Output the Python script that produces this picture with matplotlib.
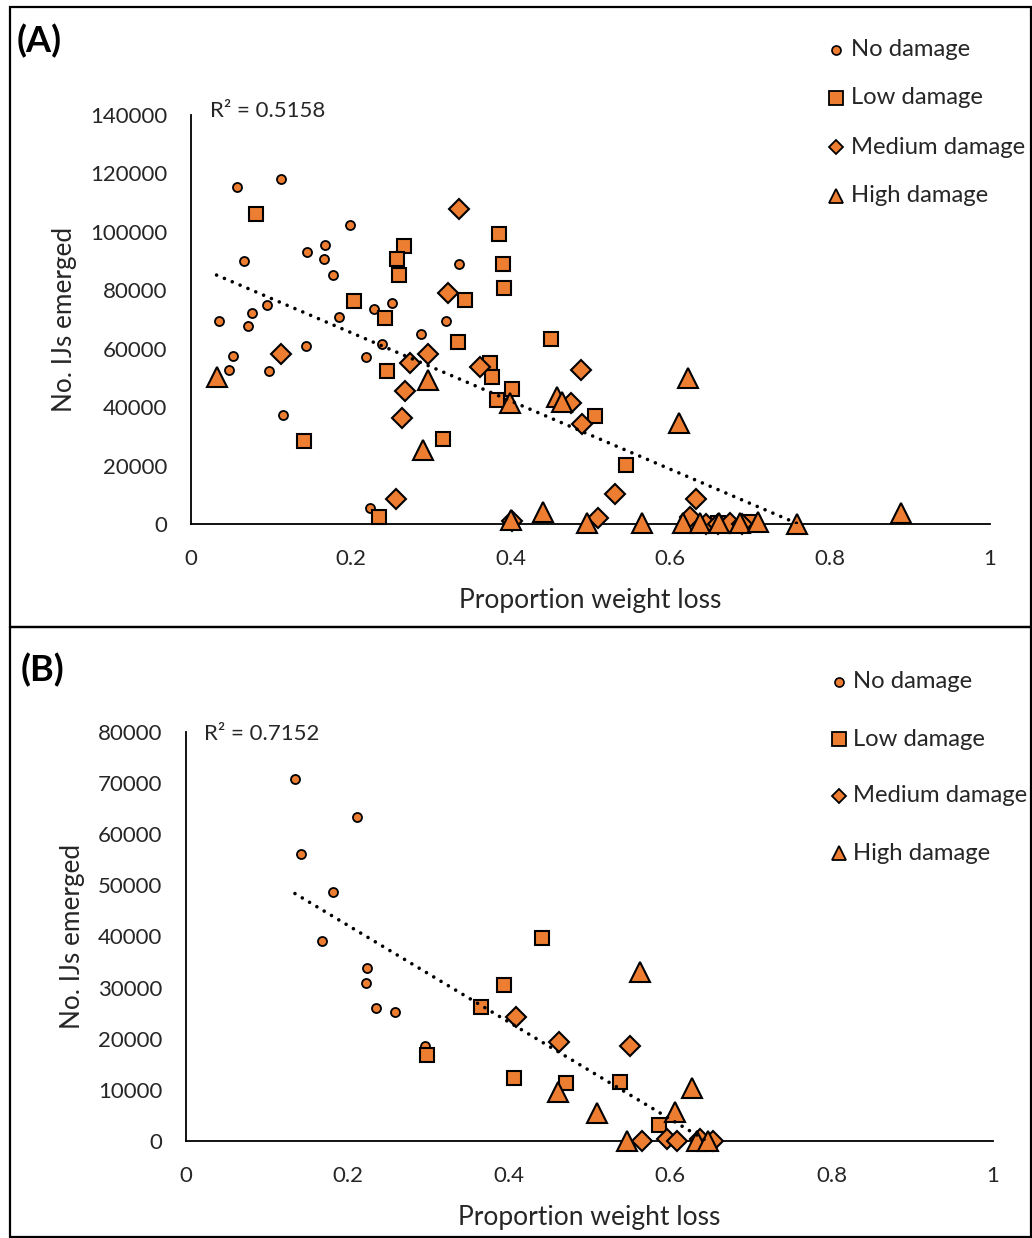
import numpy as np
import matplotlib
matplotlib.use("Agg")
import matplotlib.pyplot as plt
from matplotlib.lines import Line2D
from matplotlib.patches import Rectangle

plt.rcParams["font.family"] = ["Lato", "DejaVu Sans"]

ORANGE = "#ED7D31"

# ---- Panel A data (proportion weight loss, IJs emerged) ----
a_none_x = [0.058, 0.113, 0.199, 0.168, 0.145, 0.166, 0.066, 0.178, 0.095, 0.076,
            0.035, 0.071, 0.185, 0.229, 0.252, 0.239, 0.144, 0.053, 0.219, 0.047,
            0.098, 0.115, 0.224, 0.336, 0.319, 0.288]
a_none_y = [115500, 118200, 102400, 95500, 93000, 90800, 90000, 85100, 75000, 72300,
            69400, 67700, 70800, 73600, 75800, 61600, 61000, 57600, 57200, 52700,
            52400, 37200, 5600, 88900, 69400, 65000]

a_low_x = [0.081, 0.267, 0.258, 0.260, 0.204, 0.243, 0.245, 0.141, 0.235, 0.386,
           0.390, 0.392, 0.343, 0.334, 0.451, 0.374, 0.377, 0.402, 0.383, 0.316,
           0.506, 0.545, 0.660, 0.700]
a_low_y = [106000, 95200, 90600, 85200, 76300, 70500, 52400, 28500, 2500, 99200,
           89000, 80700, 76700, 62400, 63400, 55000, 50400, 46100, 42400, 29100,
           37000, 20100, 300, 600]

a_med_x = [0.336, 0.322, 0.113, 0.296, 0.274, 0.362, 0.488, 0.268, 0.264, 0.475,
           0.489, 0.531, 0.510, 0.256, 0.632, 0.625, 0.402, 0.645, 0.660, 0.675,
           0.690]
a_med_y = [107700, 79000, 58200, 58100, 55100, 53700, 52700, 45400, 36300, 41300,
           34200, 10400, 1950, 8450, 8550, 2500, 1000, 0, 0, 500,
           0]

a_high_x = [0.032, 0.296, 0.290, 0.399, 0.401, 0.441, 0.495, 0.458, 0.464, 0.622,
            0.611, 0.565, 0.616, 0.637, 0.661, 0.687, 0.710, 0.758, 0.889]
a_high_y = [50400, 49300, 25300, 41300, 1400, 4200, 200, 43600, 41900, 49900,
            34500, 300, 200, 300, 300, 300, 700, 0, 3700]

# ---- Panel B data ----
b_none_x = [0.135, 0.212, 0.1425, 0.1825, 0.1685, 0.224, 0.223, 0.2355, 0.259, 0.296]
b_none_y = [70900, 63300, 56200, 48800, 39200, 33800, 30900, 26100, 25200, 18500]

b_low_x = [0.394, 0.3655, 0.2986, 0.407, 0.441, 0.471, 0.538, 0.5866]
b_low_y = [30500, 26200, 16900, 12300, 39700, 11300, 11500, 3100]

b_med_x = [0.409, 0.4626, 0.5506, 0.565, 0.5956, 0.608, 0.637, 0.653]
b_med_y = [24200, 19400, 18600, 0, 300, 0, 300, 0]

b_high_x = [0.5626, 0.4614, 0.509, 0.6266, 0.606, 0.546, 0.633, 0.647]
b_high_y = [33100, 9500, 5400, 10300, 5700, 0, 0, 0]

labels = ["No damage", "Low damage", "Medium damage", "High damage"]
x_ticks = [0, 0.2, 0.4, 0.6, 0.8, 1]
x_tick_labels = ["0", "0.2", "0.4", "0.6", "0.8", "1"]

# marker look for each damage class: (marker, size, edge width)
styles = [("o", 6.5, 1.3), ("s", 10.5, 1.5), ("D", 10.0, 1.5), ("^", 14.5, 1.5)]
legend_styles = [("o", 6.5, 1.2), ("s", 10.0, 1.3), ("D", 7.0, 1.3), ("^", 9.5, 1.3)]

W, H = 1032, 1238
fig = plt.figure(figsize=(W / 100, H / 100), dpi=100)


def px_box(left, top, right, bottom):
    return [left / W, 1 - bottom / H, (right - left) / W, (bottom - top) / H]


def draw_panel(ax, groups, ymax, ystep, r2_text, r2_pos, xlab_y, ylab_x):
    for (xs, ys), (m, ms, mew) in zip(groups, styles):
        ax.plot(xs, ys, linestyle="none", marker=m, markersize=ms,
                markerfacecolor=ORANGE, markeredgecolor="black",
                markeredgewidth=mew, clip_on=False, zorder=3)

    # linear trendline over all points
    all_x = np.concatenate([np.asarray(g[0]) for g in groups])
    all_y = np.concatenate([np.asarray(g[1]) for g in groups])
    slope, icpt = np.polyfit(all_x, all_y, 1)
    tx = np.array([all_x.min(), all_x.max()])
    ax.plot(tx, icpt + slope * tx, color="black", linewidth=2.6,
            linestyle=(0, (0.01, 2.35)), dash_capstyle="round", zorder=4)

    ax.set_xlim(0, 1)
    ax.set_ylim(0, ymax)
    ax.set_xticks(x_ticks)
    ax.set_xticklabels(x_tick_labels)
    ax.set_yticks(np.arange(0, ymax + 1, ystep))
    ax.tick_params(length=0, labelsize=16, colors="#262626")
    ax.tick_params(axis="y", pad=17)
    ax.tick_params(axis="x", pad=18)
    for s in ["top", "right"]:
        ax.spines[s].set_visible(False)
    for s in ["left", "bottom"]:
        ax.spines[s].set_color("black")
        ax.spines[s].set_linewidth(1.3)

    ax.set_xlabel("Proportion weight loss", fontsize=19, color="#262626")
    ax.xaxis.set_label_coords(0.5, xlab_y)
    ax.xaxis.label.set_va("center")
    ax.set_ylabel("No. IJs emerged", fontsize=18.8, color="#262626")
    ax.yaxis.set_label_coords(ylab_x, 0.5)
    ax.yaxis.label.set_va("center")

    ax.text(r2_pos[0], r2_pos[1], r2_text, transform=ax.transAxes,
            fontsize=16, color="#262626", ha="left", va="center")


def draw_legend(marker_x, text_x, rows):
    for (m, ms, mew), lab, row in zip(legend_styles, labels, rows):
        fy = 1 - row / H
        fig.add_artist(Line2D([marker_x / W], [fy], transform=fig.transFigure,
                              linestyle="none", marker=m, markersize=ms,
                              markerfacecolor=ORANGE, markeredgecolor="black",
                              markeredgewidth=mew))
        fig.text(text_x / W, fy, lab, fontsize=17.2, color="#262626",
                 ha="left", va="center")


# panel frames
for top, bottom in [(7, 627), (627, 1237)]:
    fig.add_artist(Rectangle((10 / W, 1 - bottom / H), (1031 - 10) / W,
                             (bottom - top) / H, transform=fig.transFigure,
                             fill=False, edgecolor="black", linewidth=1.6))

# (A)
ax_a = fig.add_axes(px_box(191, 115, 990, 524))
draw_panel(ax_a,
           [(a_none_x, a_none_y), (a_low_x, a_low_y),
            (a_med_x, a_med_y), (a_high_x, a_high_y)],
           140000, 20000, "R² = 0.5158", (0.024, 1.01), -0.186, -0.158)
fig.text(17 / W, 1 - 41 / H, "(A)", fontsize=26, fontweight="bold",
         ha="left", va="center")
draw_legend(836, 851, [50, 98, 147, 196])

# (B)
ax_b = fig.add_axes(px_box(186, 732, 993, 1141))
draw_panel(ax_b,
           [(b_none_x, b_none_y), (b_low_x, b_low_y),
            (b_med_x, b_med_y), (b_high_x, b_high_y)],
           80000, 10000, "R² = 0.7152", (0.022, 0.995), -0.188, -0.141)
fig.text(21 / W, 1 - 670 / H, "(B)", fontsize=26, fontweight="bold",
         ha="left", va="center")
draw_legend(839, 853, [682, 739, 796, 853])

fig.savefig("out.png", dpi=100)
